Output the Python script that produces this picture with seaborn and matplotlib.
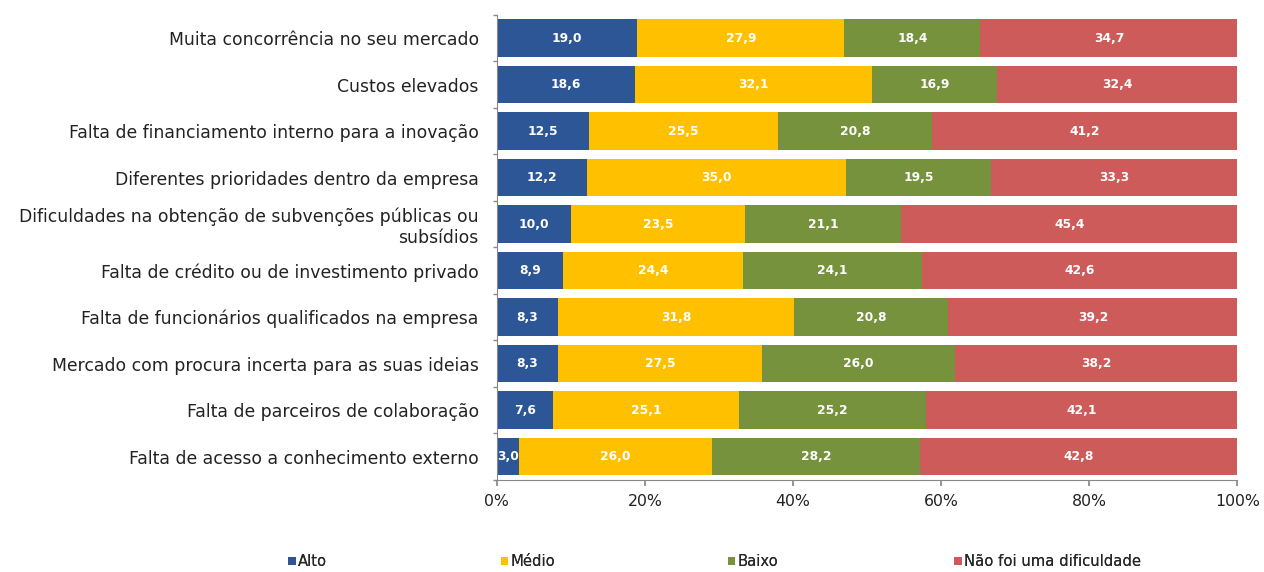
import matplotlib
matplotlib.use("Agg")
import matplotlib.pyplot as plt
import seaborn as sns
import numpy as np
import pandas as pd

categories = [
    "Muita concorrência no seu mercado",
    "Custos elevados",
    "Falta de financiamento interno para a inovação",
    "Diferentes prioridades dentro da empresa",
    "Dificuldades na obtenção de subvenções públicas ou\nsubsídios",
    "Falta de crédito ou de investimento privado",
    "Falta de funcionários qualificados na empresa",
    "Mercado com procura incerta para as suas ideias",
    "Falta de parceiros de colaboração",
    "Falta de acesso a conhecimento externo",
]
alto = [19.0, 18.6, 12.5, 12.2, 10.0, 8.9, 8.3, 8.3, 7.6, 3.0]
medio = [27.9, 32.1, 25.5, 35.0, 23.5, 24.4, 31.8, 27.5, 25.1, 26.0]
baixo = [18.4, 16.9, 20.8, 19.5, 21.1, 24.1, 20.8, 26.0, 25.2, 28.2]
nao = [34.7, 32.4, 41.2, 33.3, 45.4, 42.6, 39.2, 38.2, 42.1, 42.8]

series_names = ["Alto", "Médio", "Baixo", "Não foi uma dificuldade"]
series_vals = [alto, medio, baixo, nao]
colors = ["#2C5696", "#FFC000", "#76923C", "#CD5B5A"]
tick_labels = ["0%", "20%", "40%", "60%", "80%", "100%"]

sns.set_theme(style="white")
plt.rcParams["font.family"] = ["DejaVu Sans"]

fig = plt.figure(figsize=(12.64, 5.72), dpi=100)
ax = fig.add_axes([0.393, 0.161, 0.586, 0.813])

vals = np.array(series_vals)
cum = np.cumsum(vals, axis=0)
starts = cum - vals

# Stacked bars: draw cumulative totals from the longest down so each layer shows
for i in range(len(series_names) - 1, -1, -1):
    df = pd.DataFrame({"cat": categories, "val": cum[i]})
    sns.barplot(data=df, x="val", y="cat", orient="h", color=colors[i],
                saturation=1, width=0.81, ax=ax, linewidth=0,
                label=series_names[i])

# Value labels centred in each segment
for i in range(len(series_names)):
    for j in range(len(categories)):
        v = vals[i, j]
        ax.text(starts[i, j] + v / 2, j, f"{v:.1f}".replace(".", ","),
                ha="center", va="center", color="white",
                fontsize=8.8, fontweight="bold")

n = len(categories)
ax.set_xlim(0, 100)
ax.set_ylim(n - 0.5, -0.5)
ax.set_xticks(np.linspace(0, 100, len(tick_labels)))
ax.set_xticklabels(tick_labels, fontsize=11.3, color="#222222")
ax.set_yticks(np.arange(-0.5, n, 1.0), minor=True)
ax.tick_params(axis="x", length=4, color="#888888", direction="out", bottom=True, pad=6)
ax.tick_params(axis="y", which="major", length=0, labelsize=12.4,
               labelcolor="#222222", pad=13)
ax.tick_params(axis="y", which="minor", length=3, color="#888888",
               direction="out", left=True)
ax.set_xlabel("")
ax.set_ylabel("")
for side in ["top", "right"]:
    ax.spines[side].set_visible(False)
for side in ["left", "bottom"]:
    ax.spines[side].set_color("#888888")
    ax.spines[side].set_linewidth(0.8)

if ax.get_legend() is not None:
    ax.get_legend().remove()

# Legend entries spread along the bottom of the figure
handles, labels = ax.get_legend_handles_labels()
legend_x = [0.228, 0.396, 0.576, 0.755]
for name, x in zip(series_names, legend_x):
    h = handles[labels.index(name)]
    lg = fig.legend([h], [name], loc="center left", bbox_to_anchor=(x, 0.018),
                    frameon=False, fontsize=10.6, handlelength=0.5,
                    handleheight=0.5, handletextpad=0.15, borderpad=0,
                    borderaxespad=0)
    fig.add_artist(lg)

fig.savefig("out.png", dpi=100)
